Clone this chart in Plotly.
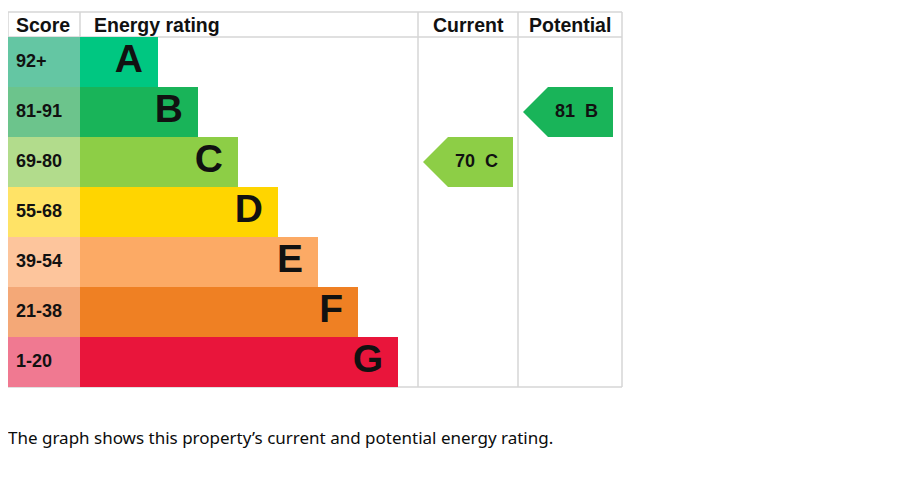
import plotly.graph_objects as go

# EPC bands, top (best) to bottom
bands = ["A", "B", "C", "D", "E", "F", "G"]
score_ranges = ["92+", "81-91", "69-80", "55-68", "39-54", "21-38", "1-20"]
band_min_score = [92, 81, 69, 55, 39, 21, 1]
band_colors = ["#00c781", "#19b459", "#8dce46", "#ffd500", "#fcaa65", "#ef8023", "#e9153b"]
score_colors = ["#64c6a3", "#6cc48c", "#b2dc8c", "#ffe366", "#fdc59c", "#f4a877", "#f07991"]

current_score = 70
potential_score = 81

caption = "The graph shows this property\u2019s current and potential energy rating."

W, H = 897, 479
OFF = 8  # page body margin, so axes map straight to window pixels
# table geometry (window pixels)
left, right = 8, 622
top, header_bottom = 12, 37
row_h = 50
score_x1 = 80
bar_step = 40
bar_min = 78
cur_x0, cur_x1 = 418, 518
pot_x0, pot_x1 = 518, 622
arrow_w = 90
grid_color = "#d6d6d6"
label_font = "Liberation Sans, Arial, sans-serif"


def band_index(score):
    for i, lo in enumerate(band_min_score):
        if score >= lo:
            return i
    return len(bands) - 1


row_centers = [header_bottom + row_h * (i + 0.5) for i in range(len(bands))]
bar_lengths = [bar_min + bar_step * i for i in range(len(bands))]
table_bottom = header_bottom + row_h * len(bands)

fig = go.Figure()

# score column
fig.add_trace(go.Bar(
    orientation="h", y=row_centers, x=[score_x1 - left] * len(bands), base=left,
    width=row_h, marker=dict(color=score_colors, line_width=0), hoverinfo="skip",
))
# rating bars
fig.add_trace(go.Bar(
    orientation="h", y=row_centers, x=bar_lengths, base=score_x1,
    width=row_h, marker=dict(color=band_colors, line_width=0), hoverinfo="skip",
))

# score labels
fig.add_trace(go.Scatter(
    x=[left + 8] * len(bands), y=row_centers, mode="text", text=score_ranges,
    textposition="middle right", hoverinfo="skip",
    textfont=dict(family=label_font, size=18, color="#111111", weight="bold"),
))
# band letters
fig.add_trace(go.Scatter(
    x=[score_x1 + L - 15 for L in bar_lengths], y=row_centers, mode="text", text=bands,
    textposition="middle left", hoverinfo="skip",
    textfont=dict(family=label_font, size=39, color="#111111", weight="bold"),
))


def add_arrow(score, col_x0):
    i = band_index(score)
    yc = row_centers[i]
    y0, y1 = yc - row_h / 2, yc + row_h / 2
    tip = col_x0 + 5
    base = tip + 25
    end = tip + arrow_w
    fig.add_trace(go.Scatter(
        x=[tip, base, end, end, base, tip], y=[yc, y0, y0, y1, y1, yc],
        mode="lines", fill="toself", fillcolor=band_colors[i],
        line=dict(width=0, color=band_colors[i]), hoverinfo="skip",
    ))
    fig.add_trace(go.Scatter(
        x=[(base + end) / 2 - 4], y=[yc], mode="text",
        text=[f"{score}\u00a0\u00a0{bands[i]}"], textposition="middle center",
        hoverinfo="skip",
        textfont=dict(family=label_font, size=18, color="#111111", weight="bold"),
    ))


add_arrow(current_score, cur_x0)
add_arrow(potential_score, pot_x0)

# grid lines
lines = [
    (left, top, right, top),
    (left, header_bottom, right, header_bottom),
    (left, table_bottom, right, table_bottom),
    (left, top, left, header_bottom),
    (score_x1, top, score_x1, header_bottom),
    (cur_x0, top, cur_x0, table_bottom),
    (pot_x0, top, pot_x0, table_bottom),
    (right, top, right, table_bottom),
]
for x0, y0, x1, y1 in lines:
    fig.add_shape(type="line", x0=x0, y0=y0, x1=x1, y1=y1,
                  line=dict(color=grid_color, width=1.5), layer="below")

# headers
hdr_y = (top + header_bottom) / 2
headers = [("Score", left + 6, "left"), ("Energy rating", score_x1 + 12, "left"),
           ("Current", (cur_x0 + cur_x1) / 2, "center"),
           ("Potential", (pot_x0 + pot_x1) / 2, "center")]
for txt, x, anchor in headers:
    fig.add_annotation(x=x, y=hdr_y, text=txt, showarrow=False, xanchor=anchor,
                       yanchor="middle",
                       font=dict(family=label_font, size=19.5, color="#111111", weight="bold"))

fig.add_annotation(xref="paper", x=0, y=437, xshift=-2, text=caption, showarrow=False,
                   xanchor="left", yanchor="middle",
                   font=dict(family="Noto Sans, sans-serif", size=17, color="#0b0c0c"))

fig.update_layout(
    width=W, height=H, margin=dict(l=0, r=0, t=0, b=0),
    paper_bgcolor="white", plot_bgcolor="white", showlegend=False,
    xaxis=dict(range=[OFF, W + OFF], visible=False, fixedrange=True),
    yaxis=dict(range=[H + OFF, OFF], visible=False, fixedrange=True),
    barmode="overlay",
)

fig.write_html("out.html")
